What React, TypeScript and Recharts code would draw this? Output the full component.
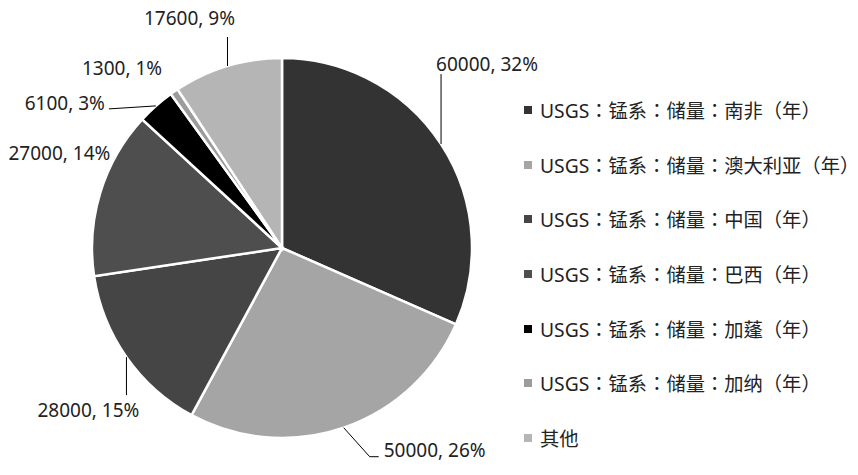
import { Legend, Pie, PieChart, Cell } from 'recharts';

const names = [
  'USGS：锰系：储量：南非（年）',
  'USGS：锰系：储量：澳大利亚（年）',
  'USGS：锰系：储量：中国（年）',
  'USGS：锰系：储量：巴西（年）',
  'USGS：锰系：储量：加蓬（年）',
  'USGS：锰系：储量：加纳（年）',
  '其他',
];
const values = [60000, 50000, 28000, 27000, 6100, 1300, 17600];
const percents = ['32%', '26%', '15%', '14%', '3%', '1%', '9%'];

const colors = ['#333333', '#a5a5a5', '#454545', '#4e4e4e', '#000000', '#9c9c9c', '#b5b5b5'];

// leader line / text placement relative to the slice's outer edge point
const labelLayout = [
  { line: [[0, -70]], tx: -5, ty: -80, anchor: 'start' },
  { line: [[26, 29], [35, 29]], tx: 40, ty: 22, anchor: 'start' },
  { line: [[0, 38]], tx: -38, ty: 53, anchor: 'middle' },
  { line: [], tx: 10, ty: -39, anchor: 'end' },
  { line: [[-47, 3]], tx: -51, ty: -3, anchor: 'end' },
  { line: [], tx: -12, ty: -24, anchor: 'end' },
  { line: [[0, -29]], tx: -38, ty: -48, anchor: 'middle' },
];

const data = names.map((name, i) => ({ name, value: values[i], pct: percents[i] }));

const FONT = '"Noto Sans", "Noto Sans CJK TC", sans-serif';
const RADIAN = Math.PI / 180;

function renderLabel(props: any) {
  const { cx, cy, midAngle, outerRadius, index } = props;
  const px = cx + outerRadius * Math.cos(-midAngle * RADIAN);
  const py = cy + outerRadius * Math.sin(-midAngle * RADIAN);
  const lay = labelLayout[index];
  const pts = [[px, py], ...lay.line.map(([dx, dy]) => [px + dx, py + dy])];
  return (
    <g key={`lbl-${index}`}>
      {pts.length > 1 && (
        <polyline
          points={pts.map((p) => p.join(',')).join(' ')}
          fill="none"
          stroke="#000"
          strokeWidth={1}
        />
      )}
      <text
        x={px + lay.tx}
        y={py + lay.ty}
        textAnchor={lay.anchor as any}
        dominantBaseline="central"
        fontSize={19}
        fontFamily={FONT}
        fill="#222"
      >
        {`${data[index].value}, ${data[index].pct}`}
      </text>
    </g>
  );
}

function LegendList() {
  return (
    <div style={{ fontFamily: FONT, fontSize: 19.3, color: '#222' }}>
      {data.map((d, i) => (
        <div key={d.name} style={{ height: 54.6, display: 'flex', alignItems: 'center' }}>
          <span
            style={{
              width: 8,
              height: 8,
              background: colors[i],
              display: 'inline-block',
              marginRight: 8,
            }}
          />
          <span>{d.name}</span>
        </div>
      ))}
    </div>
  );
}

export default function App() {
  return (
    <div style={{ position: 'absolute', left: 0, top: 0, background: '#fff' }}>
      <PieChart width={858} height={475} margin={{ top: 0, right: 0, bottom: 0, left: 0 }}>
        <Pie
          data={data}
          dataKey="value"
          nameKey="name"
          cx={282}
          cy={248}
          outerRadius={190}
          startAngle={90}
          endAngle={-270}
          stroke="#fff"
          strokeWidth={2.5}
          label={renderLabel}
          labelLine={false}
          isAnimationActive={false}
        >
          {data.map((d, i) => (
            <Cell key={d.name} fill={colors[i]} />
          ))}
        </Pie>
        <Legend
          layout="vertical"
          align="right"
          verticalAlign="top"
          content={<LegendList />}
          wrapperStyle={{ left: 524, top: 83, width: 334 }}
        />
      </PieChart>
    </div>
  );
}
